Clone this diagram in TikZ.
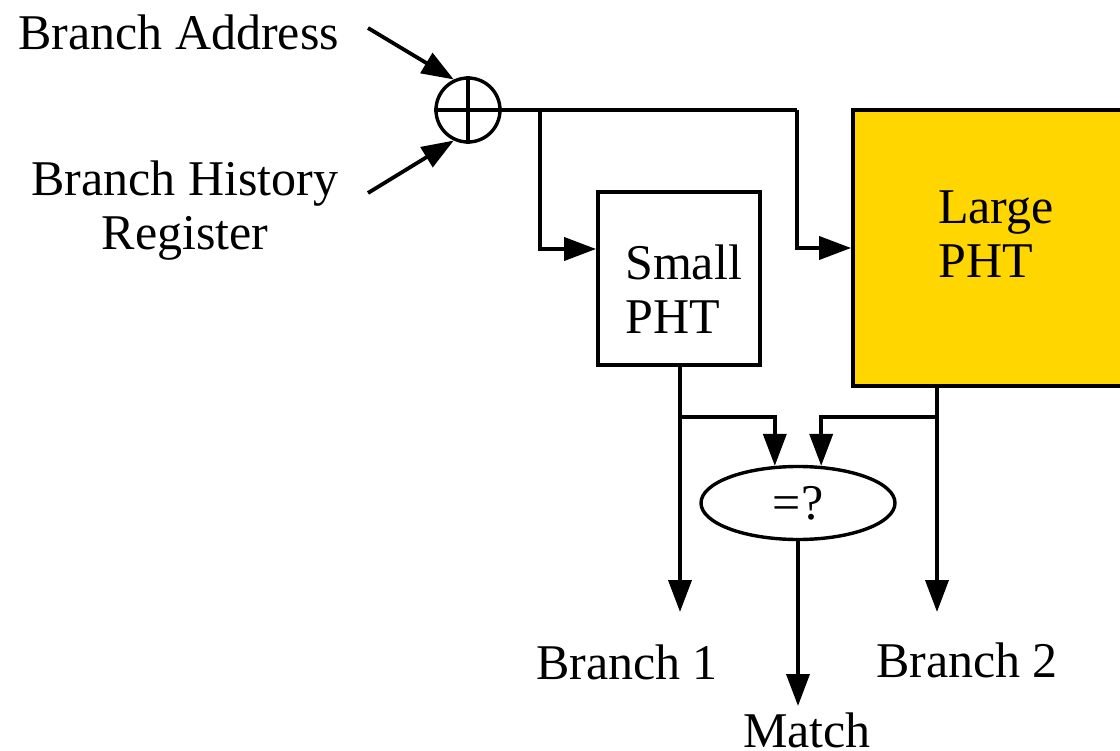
\documentclass[tikz,border=0pt]{standalone}
\usepackage{fontspec}
\setmainfont{Liberation Serif}
\usetikzlibrary{arrows.meta,shapes.geometric}
\definecolor{phtgold}{RGB}{255,214,0}
\tikzset{
  wire/.style={line width=3.8pt},
  arr/.style={wire,-{Triangle[length=32pt,width=23pt]}},
  blockbox/.style={draw,line width=3.8pt,rectangle,inner sep=0pt},
  txt/.style={font=\fontsize{50}{54}\selectfont,inner sep=0pt}
}
\begin{document}
\begin{tikzpicture}[x=1pt,y=-1pt]
  \useasboundingbox (0,0) rectangle (1120,751);
  \clip (0,0) rectangle (1120,751);
  \fill[white] (0,0) rectangle (1120,751);

  % input labels
  \node[txt,anchor=west] (addr) at (18,32) {Branch Address};
  \node[txt,align=center] (bhr) at (185,211) {Branch History\\Register};

  % XOR of address and history
  \node[draw,circle,line width=3.4pt,minimum size=64pt,inner sep=0pt] (xor) at (468,110) {};
  \draw[line width=3.4pt] (xor.north) -- (xor.south) (xor.west) -- (xor.east);

  \coordinate (ain) at (368,28);
  \coordinate (hin) at (368,193);
  \draw[arr] (ain) -- (xor.115);
  \draw[arr] (hin) -- (xor.-115);

  % pattern history tables
  \node[blockbox,minimum width=162pt,minimum height=173pt] (small) at (679,278.5) {};
  \node[txt,align=left,anchor=west] (smalltxt) at (625,289) {Small\\PHT};

  \node[blockbox,fill=phtgold,minimum width=300pt,minimum height=276pt] (large) at (1003,248) {};
  \node[txt,align=left,anchor=west] (largetxt) at (938,234) {Large\\PHT};

  % index bus
  \coordinate (t1) at (540,110);
  \coordinate (t2) at (797,110);
  \draw[wire] (xor.east) -- (t2);
  \draw[arr] (t1) |- (small.west |- 0,249);
  \draw[arr] (t2) |- (large.west);

  % comparator
  \node[draw,ellipse,line width=3.4pt,minimum width=194pt,minimum height=73pt,inner sep=0pt,
        font=\fontsize{50}{54}\selectfont] (eq) at (798,503) {=?};

  % outputs
  \coordinate (b1) at (680,612);
  \coordinate (b2) at (937,612);
  \coordinate (m) at (798,706);
  \coordinate (j1) at (680,417);
  \coordinate (j2) at (937,417);

  \draw[arr] (small.south -| b1) -- (b1);
  \draw[arr] (large.south -| b2) -- (b2);
  \draw[arr] (j1) -| (eq.122);
  \draw[arr] (j2) -| (eq.58);
  \draw[arr] (eq.south) -- (m);

  \node[txt] (b1txt) at (627,662) {Branch 1};
  \node[txt] (b2txt) at (967,660) {Branch 2};
  \node[txt] (mtxt) at (807,730) {Match};
\end{tikzpicture}
\end{document}
